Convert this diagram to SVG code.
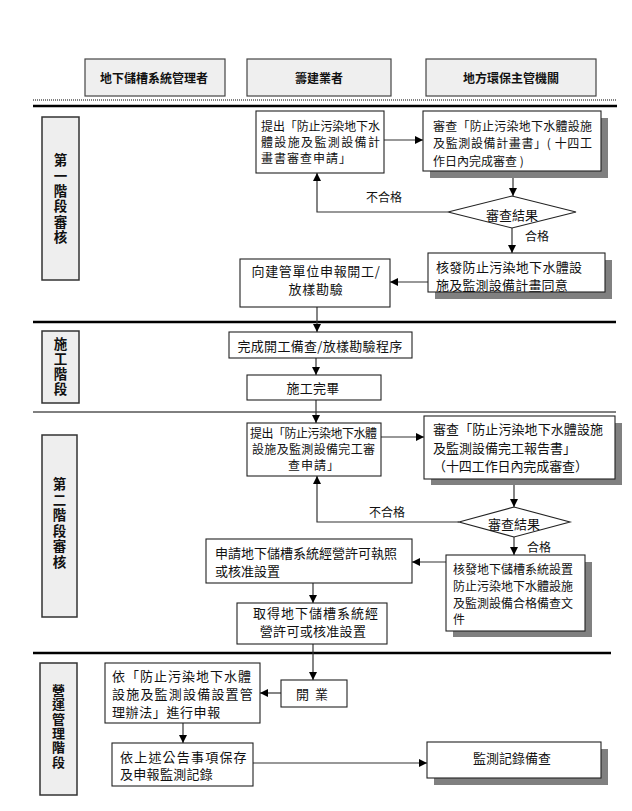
<svg xmlns="http://www.w3.org/2000/svg" width="632" height="811" viewBox="0 0 632 811">
<style>
text{font-family:"Noto Sans CJK TC","Noto Sans CJK SC",sans-serif;fill:#111;dominant-baseline:central}
.hd{font-size:12px;font-weight:bold;text-anchor:middle}
.st{font-size:13.5px;font-weight:bold;text-anchor:middle;writing-mode:vertical-rl}
.st4{font-size:13px}
.s12{font-size:12px}
.s13{font-size:13px}
.mid{text-anchor:middle}
.hbox{fill:#efefef;stroke:#444;stroke-width:1.2}
.sbox{fill:#eeeeee;stroke:#333;stroke-width:1.5}
.box{fill:#fff;stroke:#222;stroke-width:1.1}
.shd{fill:#808080}
.ln{fill:none;stroke:#333;stroke-width:1.2}
.sep{stroke:#000}
</style>
<defs>
<marker id="ah" viewBox="0 0 10 10" refX="10" refY="5" markerWidth="8" markerHeight="8" markerUnits="userSpaceOnUse" orient="auto">
<path d="M0,0 L10,5 L0,10 z" fill="#000"/>
</marker>
</defs>
<rect width="632" height="811" fill="#fff"/>

<g id="separators">
<line class="sep" x1="33" y1="100" x2="617" y2="100" stroke="#777" stroke-width="1" stroke-dasharray="1 1"/>
<line class="sep" x1="33" y1="106" x2="617" y2="106" stroke-width="2.5"/>
<line class="sep" x1="33" y1="322" x2="616" y2="322" stroke-width="2.5"/>
<line class="sep" x1="33" y1="412" x2="616" y2="412" stroke-width="1"/>
<line class="sep" x1="33" y1="653" x2="611" y2="653" stroke-width="2.5"/>
</g>

<g id="headers">
<g id="h1"><rect class="hbox" x="85" y="59" width="140" height="37"/><text class="hd" x="154" y="77">地下儲槽系統管理者</text></g>
<g id="h2"><rect class="hbox" x="247" y="59" width="144" height="37"/><text class="hd" x="319" y="77">籌建業者</text></g>
<g id="h3"><rect class="hbox" x="426" y="59" width="170" height="37"/><text class="hd" x="511" y="77">地方環保主管機關</text></g>
</g>

<g id="stages">
<g id="stage1"><rect class="sbox" x="42" y="117" width="37" height="163"/>
<text class="st" x="60.5" y="199.5" letter-spacing="1.9">第一階段審核</text></g>
<g id="stage2"><rect class="sbox" x="42" y="331" width="37" height="72"/>
<text class="st" x="60.5" y="367" letter-spacing="1.5">施工階段</text></g>
<g id="stage3"><rect class="sbox" x="42" y="435" width="35" height="182"/>
<text class="st" x="59.5" y="524" letter-spacing="2.1">第二階段審核</text></g>
<g id="stage4"><rect class="sbox" x="40" y="663" width="37" height="132"/>
<text class="st st4" x="58.5" y="726.5" letter-spacing="1.4">營運管理階段</text></g>
</g>

<g id="connectors">
<line class="ln" x1="384" y1="140" x2="423" y2="140" marker-end="url(#ah)"/>
<line class="ln" x1="513" y1="178" x2="513" y2="196" marker-end="url(#ah)"/>
<polyline class="ln" points="448,212 317,212 317,173" marker-end="url(#ah)"/>
<line class="ln" x1="512" y1="228" x2="512" y2="253" marker-end="url(#ah)"/>
<line class="ln" x1="428" y1="282" x2="390" y2="282" marker-end="url(#ah)"/>
<line class="ln" x1="317" y1="307" x2="317" y2="332" marker-end="url(#ah)"/>
<line class="ln" x1="316" y1="358" x2="316" y2="375" marker-end="url(#ah)"/>
<line class="ln" x1="316" y1="400" x2="316" y2="423" marker-end="url(#ah)"/>
<line class="ln" x1="381" y1="437" x2="424" y2="437" marker-end="url(#ah)"/>
<line class="ln" x1="514" y1="485" x2="514" y2="507" marker-end="url(#ah)"/>
<polyline class="ln" points="459,522 317,522 317,476" marker-end="url(#ah)"/>
<line class="ln" x1="514" y1="537" x2="514" y2="555" marker-end="url(#ah)"/>
<line class="ln" x1="446" y1="562" x2="412" y2="562" marker-end="url(#ah)"/>
<line class="ln" x1="313" y1="583" x2="313" y2="603" marker-end="url(#ah)"/>
<line class="ln" x1="313" y1="644" x2="313" y2="680" marker-end="url(#ah)"/>
<line class="ln" x1="281" y1="693" x2="260" y2="693" marker-end="url(#ah)"/>
<line class="ln" x1="183" y1="723" x2="183" y2="743" marker-end="url(#ah)"/>
<line class="ln" x1="253" y1="763" x2="427" y2="763" marker-end="url(#ah)"/>
<text class="s12" x="366" y="196">不合格</text>
<text class="s12" x="525" y="235">合格</text>
<text class="s12" x="369" y="511">不合格</text>
<text class="s12" x="527" y="546">合格</text>
</g>

<g id="nodeA"><rect class="box" x="256" y="111" width="128" height="62"/>
<text class="s12" x="261" y="125" textLength="119" lengthAdjust="spacing">提出「防止污染地下水</text>
<text class="s12" x="261" y="141" textLength="119" lengthAdjust="spacing">體設施及監測設備計</text>
<text class="s12" x="261" y="157" letter-spacing="1">畫書審查申請」</text></g>

<g id="nodeB"><rect class="shd" x="430" y="118" width="178" height="60"/><rect class="box" x="423" y="111" width="178" height="60"/>
<text class="s12" x="433" y="125" textLength="159" lengthAdjust="spacing">審查「防止污染地下水體設施</text>
<text class="s12" x="433" y="142" textLength="159" lengthAdjust="spacing">及監測設備計畫書」( 十四工</text>
<text class="s12" x="433" y="160">作日內完成審查 )</text></g>

<g id="decision1"><polygon points="448,212 512,196 576,212 512,228" fill="#fff" stroke="#222" stroke-width="1.1"/>
<text class="s13 mid" x="512" y="214">審查結果</text></g>

<g id="nodeC"><rect class="shd" x="435" y="260" width="177" height="39"/><rect class="box" x="428" y="253" width="177" height="39"/>
<text class="s13" x="436" y="266.5" textLength="146" lengthAdjust="spacing">核發防止污染地下水體設</text>
<text class="s13" x="436" y="284.5" letter-spacing="0.2">施及監測設備計畫同意</text></g>

<g id="nodeD"><rect class="box" x="240" y="259" width="150" height="48"/>
<text class="s13 mid" x="316" y="270" letter-spacing="0.7">向建管單位申報開工/</text>
<text class="s13 mid" x="316" y="288" letter-spacing="0.7">放樣勘驗</text></g>

<g id="nodeE"><rect class="box" x="229" y="332" width="183" height="26"/>
<text class="s13 mid" x="320" y="345" letter-spacing="0.3">完成開工備查/放樣勘驗程序</text></g>

<g id="nodeF"><rect class="box" x="247" y="375" width="134" height="25"/>
<text class="s13 mid" x="313" y="387" letter-spacing="0.3">施工完畢</text></g>

<g id="nodeG"><rect class="box" x="247" y="423" width="134" height="53"/>
<text class="s12" x="250" y="432" textLength="127" lengthAdjust="spacing">提出「防止污染地下水體</text>
<text class="s12" x="252" y="448" textLength="123" lengthAdjust="spacing">設施及監測設備完工審</text>
<text class="s12 mid" x="314" y="464" letter-spacing="1">查申請」</text></g>

<g id="nodeH"><rect class="shd" x="431" y="423" width="191" height="62"/><rect class="box" x="424" y="416" width="191" height="63"/>
<text class="s13" x="433" y="428" textLength="170" lengthAdjust="spacing">審查「防止污染地下水體設施</text>
<text class="s13" x="433" y="447">及監測設備完工報告書」</text>
<text class="s13" x="433" y="465" textLength="155" lengthAdjust="spacing">（十四工作日內完成審查）</text></g>

<g id="decision2"><polygon points="459,522 514,507 570,522 514,537" fill="#fff" stroke="#222" stroke-width="1.1"/>
<text class="s13 mid" x="514" y="523">審查結果</text></g>

<g id="nodeI"><rect class="box" x="206" y="539" width="206" height="44"/>
<text class="s13" x="215" y="552">申請地下儲槽系統經營許可執照</text>
<text class="s13" x="215" y="570">或核准設置</text></g>

<g id="nodeJ"><rect class="shd" x="453" y="562" width="139" height="75"/><rect class="box" x="446" y="555" width="139" height="76"/>
<text class="s12" x="453" y="568">核發地下儲槽系統設置</text>
<text class="s12" x="453" y="585">防止污染地下水體設施</text>
<text class="s12" x="453" y="602">及監測設備合格備查文</text>
<text class="s12" x="453" y="618">件</text></g>

<g id="nodeK"><rect class="box" x="237" y="603" width="150" height="41"/>
<text class="s13 mid" x="316" y="612.5" letter-spacing="1">取得地下儲槽系統經</text>
<text class="s13 mid" x="313" y="630" letter-spacing="0.3">營許可或核准設置</text></g>

<g id="nodeL"><rect class="box" x="105" y="663" width="155" height="60"/>
<text class="s13" x="112" y="675" letter-spacing="1">依「防止污染地下水體</text>
<text class="s13" x="112" y="693" letter-spacing="1.2">設施及監測設備設置管</text>
<text class="s13" x="112" y="711" letter-spacing="0.6">理辦法」進行申報</text></g>

<g id="nodeM"><rect class="box" x="281" y="680" width="66" height="27"/>
<text class="s13 mid" x="312" y="693" xml:space="preserve">開  業</text></g>

<g id="nodeN"><rect class="box" x="112" y="743" width="141" height="43"/>
<text class="s13" x="120" y="756" letter-spacing="1.2">依上述公告事項保存</text>
<text class="s13" x="120" y="773.5" letter-spacing="0.3">及申報監測記錄</text></g>

<g id="nodeO"><rect class="shd" x="434" y="749" width="174" height="36"/><rect class="box" x="427" y="742" width="174" height="36"/>
<text class="s13 mid" x="512" y="757">監測記錄備查</text></g>
</svg>
